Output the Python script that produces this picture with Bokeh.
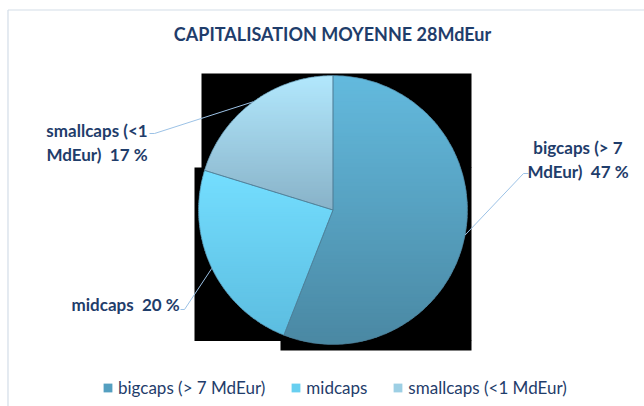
import numpy as np
from bokeh.plotting import figure
from bokeh.models import Range1d, Legend, LegendItem, ColumnDataSource
from bokeh.core.properties import value
from bokeh.embed import file_html
from bokeh.resources import INLINE

# ---------------- data ----------------
categories = ["bigcaps (> 7 MdEur)", "midcaps", "smallcaps (<1 MdEur)"]
values = [47, 20, 17]
label_lines = [["bigcaps (> 7", "MdEur) \u00a047 %"], ["midcaps \u00a020 %"], ["smallcaps (<1", "MdEur) \u00a017 %"]]
title_text = "CAPITALISATION MOYENNE 28MdEur"

# ---------------- style ----------------
W, H = 644, 406
TXT = "#1f3d6b"
top_cols = ["#63bade", "#74deff", "#b2e8fd"]
bot_cols = ["#4a88a3", "#5cbde0", "#88b2c8"]
mid_cols = ["#549fc0", "#68cff0", "#9dcfe4"]
FONT = "Lato"


def Y(ypix):
    return H - ypix


p = figure(width=W, height=H, x_range=Range1d(0, W), y_range=Range1d(0, H),
           output_backend="svg", toolbar_location=None, min_border=0)
p.axis.visible = False
p.grid.visible = False
p.outline_line_color = None
p.background_fill_color = "white"
p.border_fill_color = "white"

# chart frame (light border top/left)
p.line(x=[7.5, 7.5], y=[Y(406), Y(9.5)], line_color="#d3dde8", line_width=1.2)
p.line(x=[7.5, 644], y=[Y(9.5), Y(9.5)], line_color="#d3dde8", line_width=1.2)

# black backdrop artifact behind the pie
p.quad(left=[201, 194, 280], right=[471, 471, 471],
       top=[Y(73), Y(167), Y(340)], bottom=[Y(167.5), Y(340.5), Y(350)],
       fill_color="black", line_color=None)

# ---------------- pie ----------------
cx, cy, R = 332.5, Y(209.5), 134.5
vals = np.array(values, dtype=float)
cum = np.concatenate([[0], np.cumsum(vals / vals.sum())])
th_start = np.pi / 2 - 2 * np.pi * cum[:-1]   # clockwise from top
th_end = np.pi / 2 - 2 * np.pi * cum[1:]


def clip_half(poly, yv, keep_above):
    out = []
    n = len(poly)
    for i in range(n):
        a = poly[i]
        b = poly[(i + 1) % n]
        ina = (a[1] >= yv) if keep_above else (a[1] <= yv)
        inb = (b[1] >= yv) if keep_above else (b[1] <= yv)
        if ina:
            out.append(a)
        if ina != inb:
            t = (yv - a[1]) / (b[1] - a[1])
            out.append((a[0] + t * (b[0] - a[0]), yv))
    return out


def hex2rgb(h):
    return np.array([int(h[i:i + 2], 16) for i in (1, 3, 5)], dtype=float)


xs, ys, cols = [], [], []
NB = 70
for i in range(len(values)):
    ang = np.linspace(th_start[i], th_end[i], 240)
    poly = [(cx, cy)] + [(cx + R * np.cos(a), cy + R * np.sin(a)) for a in ang]
    ymax = max(q[1] for q in poly)
    ymin = min(q[1] for q in poly)
    c0, c1 = hex2rgb(top_cols[i]), hex2rgb(bot_cols[i])
    edges = np.linspace(ymax, ymin, NB + 1)
    for k in range(NB):
        hi, lo = edges[k] + 0.6, edges[k + 1] - 0.6
        pc = clip_half(clip_half(poly, lo, True), hi, False)
        if len(pc) < 3:
            continue
        t = (k + 0.5) / NB
        c = c0 * (1 - t) + c1 * t
        xs.append([q[0] for q in pc])
        ys.append([q[1] for q in pc])
        cols.append("#%02x%02x%02x" % tuple(int(round(v)) for v in c))

p.patches(xs="xs", ys="ys", fill_color="cols", line_color=None,
          source=ColumnDataSource(dict(xs=xs, ys=ys, cols=cols)))

# slice outlines
p.wedge(x=cx, y=cy, radius=R, start_angle=list(th_end), end_angle=list(th_start),
        fill_color=None, line_color="#4f8099", line_width=0.8, line_alpha=0.8)

# ---------------- leader lines ----------------
mid_ang = (th_start + th_end) / 2
ex = cx + R * np.cos(mid_ang)
ey = cy + R * np.sin(mid_ang)
LEAD = "#9cc2e6"
p.line(x=[ex[0], 523, 528], y=[ey[0], Y(173), Y(173)], line_color=LEAD, line_width=1)
p.line(x=[180, 184, ex[1]], y=[Y(309), Y(309), ey[1]], line_color=LEAD, line_width=1)
p.line(x=[149, 154, ex[2]], y=[Y(133), Y(133), ey[2]], line_color=LEAD, line_width=1)

# ---------------- data labels ----------------
lab_x = [577.5, 71, 96.5]
lab_y = [147, 304, 130]
lab_align = ["center", "left", "center"]
for i, lines in enumerate(label_lines):
    for j, s in enumerate(lines):
        p.text(x=[lab_x[i]], y=[Y(lab_y[i] + 24 * j)], text=[s],
               text_font=value(FONT), text_font_style="bold", text_font_size="17px",
               text_color=TXT, text_align=lab_align[i], text_baseline="middle")

# title
p.text(x=[332], y=[Y(33)], text=[title_text], text_font=value(FONT),
       text_font_style="bold", text_font_size="18px", text_color=TXT,
       text_align="center", text_baseline="middle")

# ---------------- legend ----------------
items = []
for i, c in enumerate(categories):
    r = p.quad(left=[-50], right=[-40], top=[-40], bottom=[-50],
               fill_color=mid_cols[i], line_color=None)
    items.append(LegendItem(label=c, renderers=[r]))
leg = Legend(items=items, orientation="horizontal", location=(102, 8),
             label_text_font=FONT, label_text_font_size="17px", label_text_color=TXT,
             glyph_width=11, glyph_height=11, label_height=15, label_standoff=5,
             spacing=25, padding=0, margin=0, border_line_color=None,
             background_fill_alpha=0)
p.add_layout(leg)

open("out.html", "w").write(file_html(p, INLINE))
